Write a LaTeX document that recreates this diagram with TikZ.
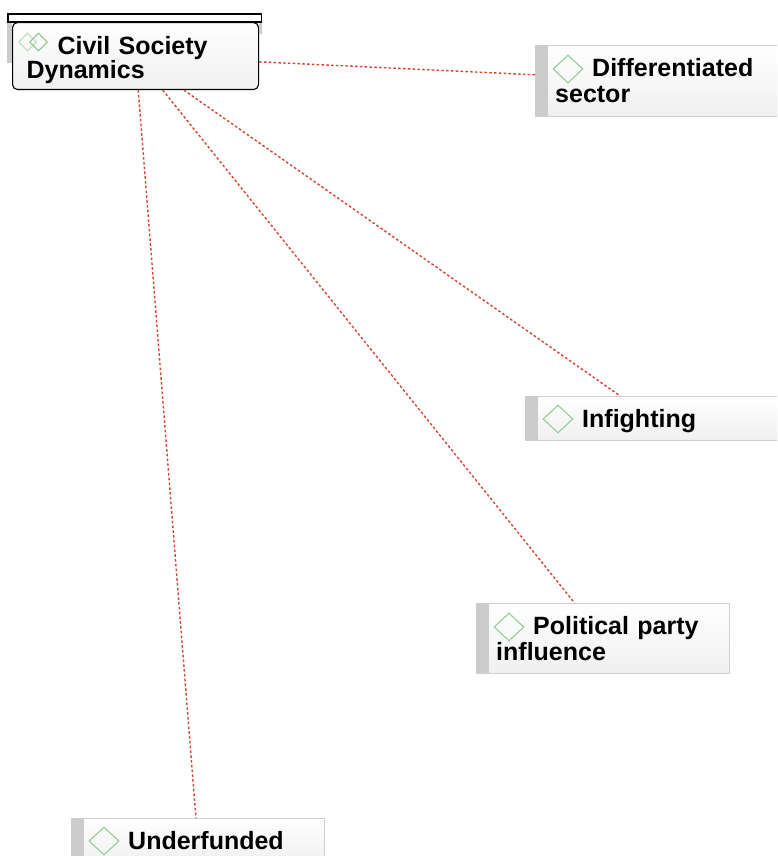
\documentclass[tikz,border=0pt]{standalone}
\usepackage{fontspec}
\setmainfont{Liberation Sans}
\usepackage{xcolor}
\usepackage{tikz}
\usetikzlibrary{shapes.geometric,positioning}

\definecolor{linkred}{RGB}{212,70,52}
\definecolor{icongreen}{RGB}{150,205,150}
\definecolor{iconpale}{RGB}{196,226,196}
\definecolor{stripgray}{RGB}{204,204,204}
\definecolor{boxline}{RGB}{208,208,208}

\begin{document}
\begin{tikzpicture}[x=1pt, y=1pt]
    % Define styles
    \tikzstyle{topic} = [rectangle, anchor=north west, draw=boxline, top color=white, bottom color=gray!12, inner sep=0pt, minimum width=253pt, text width=213pt, align=left, text height=31pt, font=\fontsize{25}{26}\selectfont\bfseries]
    \tikzstyle{root} = [topic, draw=black, line width=1.1pt, rounded corners=5pt, minimum width=246pt, text width=218pt, text height=32pt, text depth=35pt, font=\fontsize{25}{22}\selectfont\bfseries]
    \tikzstyle{icon} = [diamond, draw=icongreen, line width=1.1pt, inner sep=0pt, minimum width=30pt, minimum height=28pt]
    \tikzstyle{strip} = [fill=stripgray]
    \tikzstyle{link} = [draw=linkred, line width=1.4pt, dash pattern=on 2.6pt off 2.2pt]

    \clip (0,0) rectangle (777,-856);

    % Nodes
    \node[root] (csd) at (12,-22) {\hspace*{31pt}Civil Society\\Dynamics};
    \node[topic, text depth=40pt] (diff) at (535,-45) {\hspace*{37pt}Differentiated\\sector};
    \node[topic, text depth=13pt] (infight) at (525,-396) {\hspace*{37pt}Infighting};
    \node[topic, text depth=39pt] (party) at (476,-603) {\hspace*{37pt}Political party\\influence};
    \node[topic, text depth=13pt] (underfund) at (71,-818) {\hspace*{37pt}Underfunded};

    % Grey strips
    \fill[strip] (diff.north west) rectangle ([xshift=13pt]diff.south west);
    \fill[strip] (infight.north west) rectangle ([xshift=13pt]infight.south west);
    \fill[strip] (party.north west) rectangle ([xshift=13pt]party.south west);
    \fill[strip] (underfund.north west) rectangle ([xshift=13pt]underfund.south west);
    \fill[strip] ([xshift=-5pt]csd.north west) rectangle ([yshift=-41pt]csd.north west);
    \fill[strip] (csd.north east) rectangle ([shift={(3pt,-12pt)}]csd.north east);
    \draw[fill=white, line width=1.1pt] ([shift={(-4pt,8pt)}]csd.north west) rectangle ([shift={(2pt,0pt)}]csd.north east);

    % Icons
    \node[icon, draw=iconpale, minimum width=18pt, minimum height=18pt] (csd-icon-back) at ([shift={(15.5pt,-20pt)}]csd.north west) {};
    \node[icon, minimum width=18pt, minimum height=18pt] (csd-icon) at ([shift={(26.5pt,-20pt)}]csd.north west) {};
    \node[icon] (diff-icon) at ([shift={(33pt,-24pt)}]diff.north west) {};
    \node[icon] (infight-icon) at ([shift={(33pt,-23pt)}]infight.north west) {};
    \node[icon] (party-icon) at ([shift={(33pt,-24pt)}]party.north west) {};
    \node[icon] (underfund-icon) at ([shift={(33pt,-23pt)}]underfund.north west) {};

    % Connections
    \draw[link] (csd) -- (diff);
    \draw[link] (csd) -- (infight);
    \draw[link] (csd) -- (party);
    \draw[link] (csd) -- (underfund);
\end{tikzpicture}
\end{document}
